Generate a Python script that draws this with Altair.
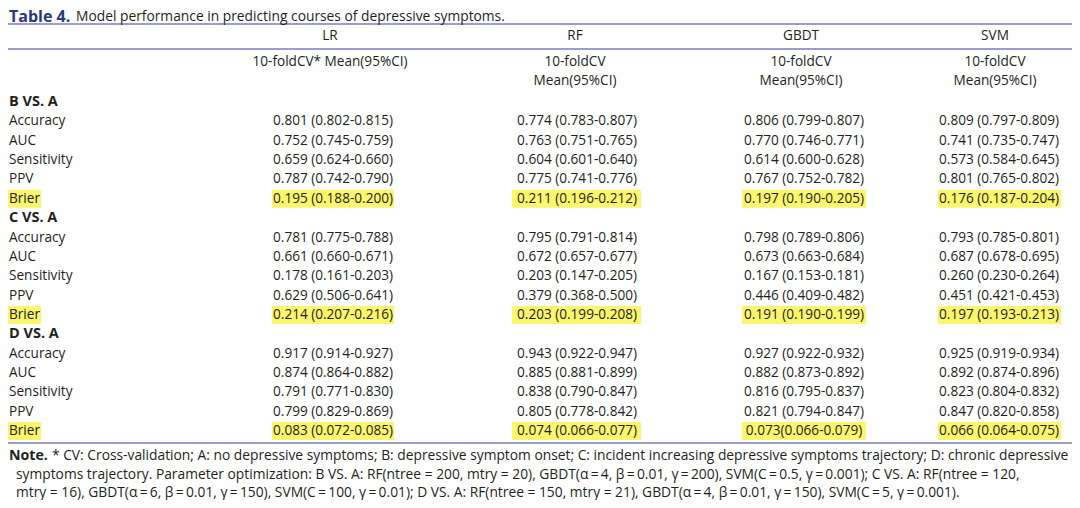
import altair as alt
import pandas as pd

# ---------------- data ----------------
models = ["LR", "RF", "GBDT", "SVM"]
comparisons = ["B VS. A", "C VS. A", "D VS. A"]
metrics = ["Accuracy", "AUC", "Sensitivity", "PPV", "Brier"]

b_vs_a = {
    "LR":   ["0.801 (0.802-0.815)", "0.752 (0.745-0.759)", "0.659 (0.624-0.660)", "0.787 (0.742-0.790)", "0.195 (0.188-0.200)"],
    "RF":   ["0.774  (0.783-0.807)", "0.763 (0.751-0.765)", "0.604 (0.601-0.640)", "0.775 (0.741-0.776)", "0.211 (0.196-0.212)"],
    "GBDT": ["0.806 (0.799-0.807)", "0.770 (0.746-0.771)", "0.614 (0.600-0.628)", "0.767 (0.752-0.782)", "0.197 (0.190-0.205)"],
    "SVM":  ["0.809 (0.797-0.809)", "0.741 (0.735-0.747)", "0.573 (0.584-0.645)", "0.801 (0.765-0.802)", "0.176 (0.187-0.204)"],
}
c_vs_a = {
    "LR":   ["0.781 (0.775-0.788)", "0.661 (0.660-0.671)", "0.178 (0.161-0.203)", "0.629 (0.506-0.641)", "0.214 (0.207-0.216)"],
    "RF":   ["0.795 (0.791-0.814)", "0.672 (0.657-0.677)", "0.203 (0.147-0.205)", "0.379 (0.368-0.500)", "0.203 (0.199-0.208)"],
    "GBDT": ["0.798 (0.789-0.806)", "0.673 (0.663-0.684)", "0.167 (0.153-0.181)", "0.446 (0.409-0.482)", "0.191 (0.190-0.199)"],
    "SVM":  ["0.793 (0.785-0.801)", "0.687 (0.678-0.695)", "0.260 (0.230-0.264)", "0.451 (0.421-0.453)", "0.197 (0.193-0.213)"],
}
d_vs_a = {
    "LR":   ["0.917 (0.914-0.927)", "0.874 (0.864-0.882)", "0.791 (0.771-0.830)", "0.799 (0.829-0.869)", "0.083 (0.072-0.085)"],
    "RF":   ["0.943 (0.922-0.947)", "0.885 (0.881-0.899)", "0.838 (0.790-0.847)", "0.805 (0.778-0.842)", "0.074 (0.066-0.077)"],
    "GBDT": ["0.927 (0.922-0.932)", "0.882 (0.873-0.892)", "0.816 (0.795-0.837)", "0.821 (0.794-0.847)", "0.073(0.066-0.079)"],
    "SVM":  ["0.925 (0.919-0.934)", "0.892 (0.874-0.896)", "0.823 (0.804-0.832)", "0.847 (0.820-0.858)", "0.066 (0.064-0.075)"],
}
blocks = [b_vs_a, c_vs_a, d_vs_a]

sub_headers = {
    "LR": ["10-foldCV* Mean(95%CI)"],
    "RF": ["10-foldCV", "Mean(95%CI)"],
    "GBDT": ["10-foldCV", "Mean(95%CI)"],
    "SVM": ["10-foldCV", "Mean(95%CI)"],
}
highlight_metric = "Brier"

title_bold = "Table 4."
title_text = "Model performance in predicting courses of depressive symptoms."
note_bold = "Note."
note_lines = [
    "* CV: Cross-validation; A: no depressive symptoms; B: depressive symptom onset; C: incident increasing depressive symptoms trajectory; D: chronic depressive",
    "symptoms trajectory. Parameter optimization: B VS. A: RF(ntree = 200, mtry = 20), GBDT(\u03b1\u2009=\u20094, \u03b2\u2009=\u20090.01, \u03b3\u2009=\u2009200), SVM(C\u2009=\u20090.5, \u03b3\u2009=\u20090.001); C VS. A: RF(ntree = 120,",
    "mtry = 16), GBDT(\u03b1\u2009=\u20096, \u03b2\u2009=\u20090.01, \u03b3\u2009=\u2009150), SVM(C\u2009=\u2009100, \u03b3\u2009=\u20090.01); D VS. A: RF(ntree = 150, mtry = 21), GBDT(\u03b1\u2009=\u20094, \u03b2\u2009=\u20090.01, \u03b3\u2009=\u2009150), SVM(C\u2009=\u20095, \u03b3\u2009=\u20090.001).",
]

# ---------------- layout ----------------
W, H = 1064, 492
X0, Y0 = 8, 8
value_cx = {"LR": 333, "RF": 577, "GBDT": 804, "SVM": 999}
header_cx = {"LR": 330, "RF": 575, "GBDT": 801, "SVM": 995}
hl_span = {"LR": (272, 394), "RF": (512, 641), "GBDT": (742, 866), "SVM": (938, 1061)}
label_x = 9
row0_y, row_step = 102, 19.36
FONT = "Open Sans"
INK = "#231f20"
RULE = "#7b7bc2"
NAVY = "#27387c"
HL = "#fcf56e"
FS = 13.6
NFS = 13.8

xs = alt.Scale(domain=[X0, X0 + W], nice=False, zero=False)
ys = alt.Scale(domain=[Y0, Y0 + H], nice=False, zero=False, reverse=True)

# table body
label_rows, bold_rows, value_rows, hl_rows = [], [], [], []
r = 0
for comp, blk in zip(comparisons, blocks):
    bold_rows.append({"x": label_x, "y": row0_y + r * row_step, "t": comp})
    r += 1
    for mi, met in enumerate(metrics):
        yy = row0_y + r * row_step
        label_rows.append({"x": label_x, "y": yy, "t": met})
        if met == highlight_metric:
            hl_rows.append({"x": 7, "x2": 41, "y": yy - 9, "y2": yy + 9})
        for m in models:
            value_rows.append({"x": value_cx[m], "y": yy, "t": blk[m][mi]})
            if met == highlight_metric:
                a, b = hl_span[m]
                hl_rows.append({"x": a, "x2": b, "y": yy - 9, "y2": yy + 9})
        r += 1

for m in models:
    value_rows.append({"x": header_cx[m], "y": 36, "t": m})
    for k, s in enumerate(sub_headers[m]):
        value_rows.append({"x": header_cx[m], "y": 62 + 19 * k, "t": s})

rules = pd.DataFrame([
    {"x": 8, "x2": 1078, "y": 24},
    {"x": 8, "x2": 1078, "y": 49},
    {"x": 8, "x2": 1078, "y": 443},
])


def text_layer(rows, align="left", weight="normal", size=FS, color=INK):
    return alt.Chart(pd.DataFrame(rows)).mark_text(
        align=align, baseline="middle", font=FONT, fontSize=size,
        fontWeight=weight, color=color,
    ).encode(
        x=alt.X("x:Q", scale=xs, axis=None),
        y=alt.Y("y:Q", scale=ys, axis=None),
        text="t:N",
    )


hl = alt.Chart(pd.DataFrame(hl_rows)).mark_rect(color=HL).encode(
    x=alt.X("x:Q", scale=xs, axis=None), x2="x2:Q",
    y=alt.Y("y:Q", scale=ys, axis=None), y2="y2:Q",
)
rl = alt.Chart(rules).mark_rule(color=RULE, strokeWidth=1.4).encode(
    x=alt.X("x:Q", scale=xs, axis=None), x2="x2:Q",
    y=alt.Y("y:Q", scale=ys, axis=None),
)

layers = [
    hl, rl,
    text_layer(label_rows),
    text_layer(bold_rows, weight="bold", size=14.5),
    text_layer(value_rows, align="center"),
    text_layer([{"x": 9, "y": 16.5, "t": title_bold}], weight="bold", size=16, color=NAVY),
    text_layer([{"x": 76, "y": 16.5, "t": title_text}], size=13.8),
    text_layer([{"x": 9, "y": 456, "t": note_bold}], weight="bold", size=14.2),
    text_layer([{"x": 52, "y": 456, "t": note_lines[0]}], size=NFS),
    text_layer([{"x": 16, "y": 474.5, "t": note_lines[1]}], size=NFS),
    text_layer([{"x": 16, "y": 493, "t": note_lines[2]}], size=NFS),
]

chart = alt.layer(*layers).properties(
    width=W, height=H, padding=0, autosize=alt.AutoSizeParams(type="none"),
    background="white",
).configure_view(stroke=None)

chart.save("out.html", embed_options={"renderer": "svg", "actions": False})
